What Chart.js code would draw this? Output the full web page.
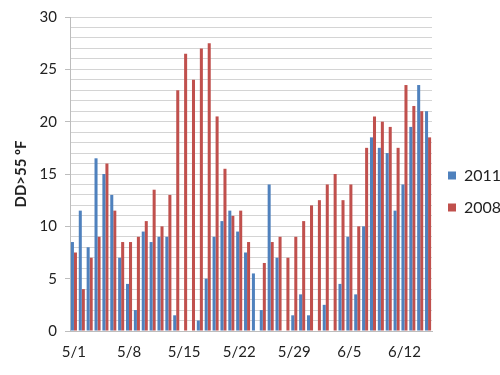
<!DOCTYPE html>
<html lang="en">
<head>
    <meta charset="UTF-8">
    <title>DD>55 ºF 2011 vs 2008</title>
    <script src="https://cdn.jsdelivr.net/npm/chart.js"></script>
    <style>
        html, body { margin: 0; padding: 0; background: #fff; }
        #wrap { width: 500px; height: 375px; }
    </style>
</head>
<body>
    <div id="wrap">
        <canvas id="ddChart" width="500" height="375"></canvas>
    </div>

    <script>
        // days 5/1 .. 6/15
        const days = [
            '5/1', '5/2', '5/3', '5/4', '5/5', '5/6', '5/7',
            '5/8', '5/9', '5/10', '5/11', '5/12', '5/13', '5/14',
            '5/15', '5/16', '5/17', '5/18', '5/19', '5/20', '5/21',
            '5/22', '5/23', '5/24', '5/25', '5/26', '5/27', '5/28',
            '5/29', '5/30', '5/31', '6/1', '6/2', '6/3', '6/4',
            '6/5', '6/6', '6/7', '6/8', '6/9', '6/10', '6/11',
            '6/12', '6/13', '6/14', '6/15'
        ];
        const dd2011 = [
            8.5, 11.5, 8, 16.5, 15, 13, 7,
            4.5, 2, 9.5, 8.5, 9, 9, 1.5,
            0, 0, 1, 5, 9, 10.5, 11.5,
            9.5, 7.5, 5.5, 2, 14, 7, 0,
            1.5, 3.5, 1.5, 0, 2.5, 0, 4.5,
            9, 3.5, 10, 18.5, 17.5, 17, 11.5,
            14, 19.5, 23.5, 21
        ];
        const dd2008 = [
            7.5, 4, 7, 9, 16, 11.5, 8.5,
            8.5, 9, 10.5, 13.5, 10, 13, 23,
            26.5, 24, 27, 27.5, 20.5, 15.5, 11,
            11.5, 8.5, 0, 6.5, 8.5, 9, 7,
            9, 10.5, 12, 12.5, 14, 15, 12.5,
            14, 10, 17.5, 20.5, 20, 19.5, 17.5,
            23.5, 21.5, 21, 18.5
        ];
        const yTickLabels = [0, 5, 10, 15, 20, 25, 30];

        const fontFamily = 'Lato, "Open Sans", sans-serif';
        const textColor = '#222';

        const ctx = document.getElementById('ddChart').getContext('2d');
        new Chart(ctx, {
            type: 'bar',
            data: {
                labels: days,
                datasets: [
                    {
                        label: '2011',
                        data: dd2011,
                        backgroundColor: '#4F81BD',
                        borderWidth: 0
                    },
                    {
                        label: '2008',
                        data: dd2008,
                        backgroundColor: '#C0504D',
                        borderWidth: 0
                    }
                ]
            },
            options: {
                responsive: false,
                animation: false,
                layout: { padding: { top: 8, right: 0, left: 0, bottom: 0 } },
                datasets: {
                    bar: { barPercentage: 1.0, categoryPercentage: 0.77 }
                },
                scales: {
                    x: {
                        grid: { display: false, drawTicks: false },
                        border: { display: true, color: '#bdbdbd', width: 1 },
                        ticks: {
                            autoSkip: false,
                            maxRotation: 0,
                            padding: 12,
                            color: textColor,
                            font: { family: fontFamily, size: 15 },
                            callback: function(value, index) {
                                return index % 7 === 0 ? days[index] : '';
                            }
                        },
                        afterFit: function(scale) { scale.height = 44; }
                    },
                    y: {
                        min: 0,
                        max: 30,
                        ticks: {
                            stepSize: 1,
                            autoSkip: false,
                            padding: 8,
                            color: textColor,
                            font: { family: fontFamily, size: 15 },
                            callback: function(value) {
                                return yTickLabels.includes(value) ? value : '';
                            }
                        },
                        grid: {
                            color: '#d4d4d4',
                            tickLength: 5,
                            tickColor: function(c) {
                                return c.tick && yTickLabels.includes(c.tick.value) ? '#bdbdbd' : 'rgba(0,0,0,0)';
                            }
                        },
                        border: { display: true, color: '#bdbdbd', width: 1 },
                        title: {
                            display: true,
                            text: 'DD>55 ºF',
                            color: textColor,
                            font: { family: fontFamily, size: 15, weight: 'bold' },
                            padding: { top: 12, bottom: 0 }
                        },
                        afterFit: function(scale) { scale.width = 70; }
                    }
                },
                plugins: {
                    legend: {
                        position: 'right',
                        maxWidth: 68,
                        labels: {
                            boxWidth: 8,
                            boxHeight: 8,
                            padding: 16,
                            color: textColor,
                            font: { family: fontFamily, size: 16 }
                        }
                    },
                    tooltip: { enabled: false }
                }
            }
        });
    </script>
</body>
</html>
